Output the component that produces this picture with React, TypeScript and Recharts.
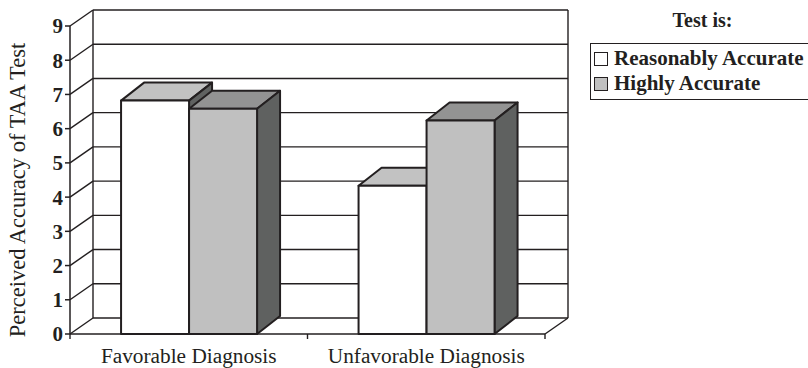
import { BarChart, Bar, XAxis, YAxis, CartesianGrid, Legend } from 'recharts'

// ── Data ──────────────────────────────────────────────────────────────────────

const categories = ['Favorable Diagnosis', 'Unfavorable Diagnosis']
const reasonablyAccurate = [6.82, 4.33]
const highlyAccurate = [6.58, 6.24]
const yTicks = [0, 1, 2, 3, 4, 5, 6, 7, 8, 9]
const seriesOrder = ['reasonable', 'high']

const data = categories.map((name, i) => ({
  name,
  reasonable: reasonablyAccurate[i],
  high: highlyAccurate[i],
}))

// ── Style ─────────────────────────────────────────────────────────────────────

const FONT = '"Liberation Serif", "Times New Roman", serif'
const INK = '#231f20'
const W = 808
const H = 368

// fake-3D depth offsets (px): back wall vs. bar boxes
const WALL = { dx: 23, dy: -16 }
const BOX = { dx: 23, dy: -18 }

// ── Shapes ────────────────────────────────────────────────────────────────────

function makeBox(front: string, top: string, side: string) {
  return (p: any) => {
    const { x, y, width: w, height: h } = p
    const { dx, dy } = BOX
    return (
      <g stroke={INK} strokeWidth={2} strokeLinejoin="round">
        <polygon points={`${x},${y} ${x + dx},${y + dy} ${x + w + dx},${y + dy} ${x + w},${y}`} fill={top} />
        <polygon points={`${x + w},${y} ${x + w + dx},${y + dy} ${x + w + dx},${y + h + dy} ${x + w},${y + h}`} fill={side} />
        <rect x={x} y={y} width={w} height={h} fill={front} />
      </g>
    )
  }
}

const WhiteBox = makeBox('#ffffff', '#c2c2c2', '#606261')
const GrayBox = makeBox('#c0c0c0', '#939393', '#5f6160')

// each grid line becomes a side-wall diagonal + back-wall horizontal;
// the top and bottom lines also close the wall and floor edges
function WallLine(p: any) {
  const { x1, x2, y1, y, height, index } = p
  const { dx, dy } = WALL
  const bx1 = x1 + dx
  const bx2 = x2 + dx
  const by = y1 + dy
  const isTop = Math.abs(y1 - y) < 0.5
  const isFloor = Math.abs(y1 - (y + height)) < 0.5
  const mid = (x1 + x2) / 2
  return (
    <g key={`wall-${index}`} stroke={INK} strokeWidth={1.4} fill="none">
      <line x1={x1} y1={y1} x2={bx1} y2={by} />
      <line x1={bx1} y1={by} x2={bx2} y2={by} />
      {isTop && (
        <>
          <line x1={bx1} y1={by} x2={bx1} y2={by + height} />
          <line x1={bx2} y1={by} x2={bx2} y2={by + height} />
        </>
      )}
      {isFloor && (
        <>
          <line x1={x2} y1={y1} x2={bx2} y2={by} />
          <line x1={x1} y1={y1} x2={x1} y2={y1 + 5} />
          <line x1={mid} y1={y1} x2={mid} y2={y1 + 5} />
          <line x1={x2} y1={y1} x2={x2} y2={y1 + 5} />
        </>
      )}
    </g>
  )
}

// rotated y-axis title, a little below the plot's vertical centre
function YTitle({ viewBox }: any) {
  const cx = viewBox.x + 17
  const cy = viewBox.y + viewBox.height / 2 + 10
  return (
    <text
      x={cx}
      y={cy}
      transform={`rotate(-90, ${cx}, ${cy})`}
      textAnchor="middle"
      dominantBaseline="central"
      fontFamily={FONT}
      fontSize={22.5}
      fill={INK}
    >
      Perceived Accuracy of TAA Test
    </text>
  )
}

function LegendBox({ payload }: any) {
  return (
    <div style={{ fontFamily: FONT, fontWeight: 'bold', color: INK }}>
      <div style={{ width: 225, textAlign: 'center', fontSize: 20, lineHeight: '24px', marginTop: 8 }}>Test is:</div>
      <div
        style={{
          marginTop: 11, width: 240, border: `1.5px solid ${INK}`,
          padding: '2px 0 3px 3px', fontSize: 21, lineHeight: '25px',
        }}
      >
        {(payload ?? []).map((e: any) => (
          <div key={e.value} style={{ display: 'flex', alignItems: 'center', whiteSpace: 'nowrap' }}>
            <span
              style={{
                display: 'inline-block', width: 12, height: 12, marginRight: 6,
                border: `1.5px solid ${INK}`, background: e.color,
              }}
            />
            {e.value}
          </div>
        ))}
      </div>
    </div>
  )
}

// ── Chart ─────────────────────────────────────────────────────────────────────

export default function App() {
  return (
    <div style={{ position: 'absolute', left: 0, top: 0, width: W, height: H, overflow: 'hidden', background: '#fff' }}>
      <BarChart
        width={W}
        height={H}
        data={data}
        margin={{ top: 26, right: 263, left: 0, bottom: 0 }}
        barCategoryGap="21.5%"
        barGap={0}
      >
        <CartesianGrid vertical={false} horizontal={WallLine} />
        <XAxis
          dataKey="name"
          height={34}
          tickLine={false}
          tickSize={6}
          tickMargin={8}
          axisLine={{ stroke: INK, strokeWidth: 1.5 }}
          tick={{ fontFamily: FONT, fontSize: 21.3, fill: INK }}
        />
        <YAxis
          width={70}
          domain={[0, 9]}
          ticks={yTicks}
          interval={0}
          tickSize={5}
          tickMargin={2}
          axisLine={{ stroke: INK, strokeWidth: 1.5 }}
          tickLine={{ stroke: INK, strokeWidth: 1.5 }}
          tick={{ fontFamily: FONT, fontSize: 21, fontWeight: 'bold', fill: INK }}
          label={{ content: <YTitle /> }}
        />
        <Legend
          layout="horizontal"
          verticalAlign="middle"
          align="center"
          itemSorter={(item: any) => seriesOrder.indexOf(item.dataKey)}
          content={<LegendBox />}
          wrapperStyle={{ position: 'absolute', left: 590, top: 0, width: 260 }}
        />
        <Bar dataKey="reasonable" name="Reasonably Accurate" fill="#ffffff" shape={WhiteBox} isAnimationActive={false} />
        <Bar dataKey="high" name="Highly Accurate" fill="#c0c0c0" shape={GrayBox} isAnimationActive={false} />
      </BarChart>
    </div>
  )
}
